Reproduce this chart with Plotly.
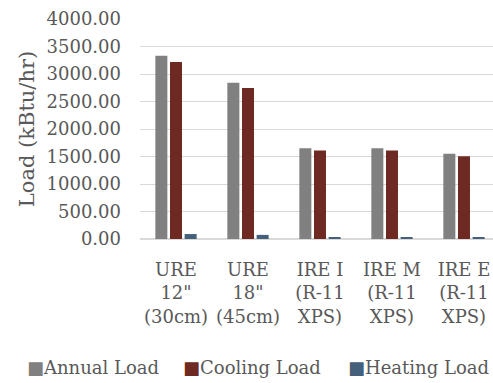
import plotly.graph_objects as go

categories = ['URE<br>12"<br>(30cm)', 'URE<br>18"<br>(45cm)', 'IRE I<br>(R-11<br>XPS)', 'IRE M<br>(R-11<br>XPS)', 'IRE E<br>(R-11<br>XPS)']
series_names = ["Annual Load", "Cooling Load", "Heating Load"]
annual_load = [3330, 2840, 1650, 1650, 1550]
cooling_load = [3220, 2745, 1610, 1610, 1505]
heating_load = [90, 75, 20, 25, 30]
y_ticks = [0, 500, 1000, 1500, 2000, 2500, 3000, 3500, 4000]

colors = ["#808080", "#6e2a22", "#44607a"]
font_family = "DejaVu Serif"
text_color = "#595959"

# plot area in pixels
L, T, B, W, H = 140, 19, 144, 493, 383
pw = W - L
ph = H - T - B

fig = go.Figure()
for name, vals, c in zip(series_names, [annual_load, cooling_load, heating_load], colors):
    fig.add_trace(go.Bar(name=name, x=categories, y=vals, marker=dict(color=c, line=dict(width=0))))

# manual legend (symbol right next to text, like the reference)
legend_x_px = [25, 181, 346]
legend_y_px = 367
for name, c, xpx in zip(series_names, colors, legend_x_px):
    fig.add_annotation(
        text=f'<span style="color:{c}">■</span>{name}',
        x=(xpx - L) / pw, y=(H - B - legend_y_px) / ph, xref="paper", yref="paper",
        xanchor="left", yanchor="middle", showarrow=False,
        font=dict(family=font_family, size=18, color=text_color),
    )

fig.update_layout(
    width=W, height=H,
    margin=dict(l=L, r=0, t=T, b=B),
    paper_bgcolor="white", plot_bgcolor="white",
    barmode="group", bargap=0.39, bargroupgap=0.18,
    font=dict(family=font_family, size=18, color=text_color),
    showlegend=False,
)
fig.update_xaxes(range=[-0.5, 4.403], showgrid=False, showline=False, ticks="", tickfont=dict(size=18),
                 tickangle=0, fixedrange=True, ticklabelstandoff=18)
fig.update_yaxes(range=[0, 4000], tickvals=y_ticks, tickformat=".2f", showgrid=True, gridcolor="#d9d9d9",
                 gridwidth=1, zeroline=True, zerolinecolor="#d9d9d9", showline=False, ticks="",
                 ticklabelstandoff=18,
                 tickfont=dict(size=18), title=dict(text="Load (kBtu/hr)", font=dict(size=21, color=text_color), standoff=6))

fig.write_html("out.html")
